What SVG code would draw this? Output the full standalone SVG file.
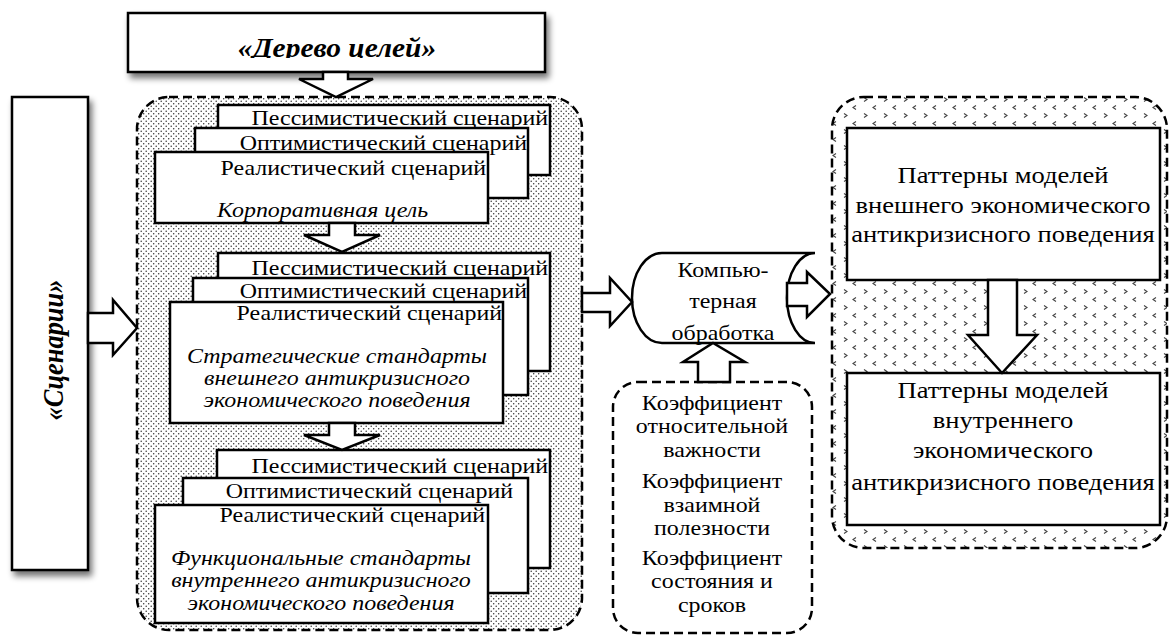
<svg xmlns="http://www.w3.org/2000/svg" width="1169" height="635" viewBox="0 0 1169 635">
<style>
.box{fill:#fff;stroke:#000;stroke-width:2.5}
.dash{stroke:#000;stroke-width:2.5;stroke-dasharray:9 5}
.arr{fill:#fff;stroke:#000;stroke-width:2.5;stroke-linejoin:miter}
.t{font-family:"Liberation Serif","Times New Roman",serif;font-size:21px;fill:#000}
.ti{font-family:"Liberation Serif","Times New Roman",serif;font-size:21px;font-style:italic;fill:#000}
.tr{font-family:"Liberation Serif","Times New Roman",serif;font-size:23.5px;fill:#000}
.tb{font-family:"Liberation Serif","Times New Roman",serif;font-weight:bold;font-style:italic;fill:#000}
</style>
<defs>
<pattern id="dots" width="5" height="5" patternUnits="userSpaceOnUse">
<rect width="5" height="5" fill="#fff"/>
<circle cx="1.2" cy="1.2" r="0.75" fill="#333"/>
<circle cx="3.7" cy="3.7" r="0.75" fill="#333"/>
</pattern>
<pattern id="chev" width="20" height="16" patternUnits="userSpaceOnUse">
<rect width="20" height="16" fill="#fff"/>
<path d="M4,1.5 L7,3.5 L4,5.5" fill="none" stroke="#444" stroke-width="1.1"/>
<path d="M16,9.5 L13,11.5 L16,13.5" fill="none" stroke="#444" stroke-width="1.1"/>
</pattern>
<filter id="sh" x="-20%" y="-20%" width="150%" height="150%">
<feGaussianBlur in="SourceAlpha" stdDeviation="3"/>
<feOffset dx="3" dy="5" result="b"/>
<feComponentTransfer><feFuncA type="linear" slope="0.55"/></feComponentTransfer>
<feMerge><feMergeNode/><feMergeNode in="SourceGraphic"/></feMerge>
</filter>
<clipPath id="titleclip"><rect x="128" y="13" width="417" height="45"/></clipPath>
</defs>
<rect width="1169" height="635" fill="#fff"/>

<g id="panel-left">
<rect x="137" y="97" width="445" height="533" rx="32" fill="url(#dots)" class="dash"/>
</g>
<g id="panel-right">
<rect x="832" y="97" width="335" height="451" rx="32" fill="url(#chev)" class="dash"/>
</g>

<g id="title">
<rect x="128" y="13" width="417" height="59" class="box" filter="url(#sh)"/>
<g clip-path="url(#titleclip)">
<text transform="translate(337,57) scale(1.09,1)" text-anchor="middle" class="tb" font-size="27">«Дерево целей»</text>
</g>
</g>

<g id="scenarios">
<rect x="12" y="97" width="76" height="473" class="box" filter="url(#sh)"/>
<text transform="translate(63,350) rotate(-90) scale(0.88,1)" text-anchor="middle" class="tb" font-size="30">«Сценарии»</text>
</g>

<g id="group1">
<rect x="218" y="105" width="332" height="70" class="box"/>
<text transform="translate(548,125) scale(1.14,1)" text-anchor="end" class="t">Пессимистический сценарий</text>
<rect x="195" y="128" width="333" height="70" class="box"/>
<text transform="translate(527,150) scale(1.14,1)" text-anchor="end" class="t">Оптимистический сценарий</text>
<rect x="155" y="152" width="333" height="71" class="box"/>
<text transform="translate(486,175) scale(1.14,1)" text-anchor="end" class="t">Реалистический сценарий</text>
<text transform="translate(217,217) scale(1.14,1)" class="ti">Корпоративная цель</text>
</g>

<g id="group2">
<rect x="218" y="253" width="332" height="118" class="box"/>
<text transform="translate(548,275) scale(1.14,1)" text-anchor="end" class="t">Пессимистический сценарий</text>
<rect x="193" y="278" width="335" height="117" class="box"/>
<text transform="translate(527,298) scale(1.14,1)" text-anchor="end" class="t">Оптимистический сценарий</text>
<rect x="170" y="302" width="333" height="121" class="box"/>
<text transform="translate(502,320) scale(1.14,1)" text-anchor="end" class="t">Реалистический сценарий</text>
<text transform="translate(337,363) scale(1.14,1)" text-anchor="middle" class="ti">Стратегические стандарты</text>
<text transform="translate(337,385) scale(1.14,1)" text-anchor="middle" class="ti">внешнего антикризисного</text>
<text transform="translate(337,407) scale(1.14,1)" text-anchor="middle" class="ti">экономического поведения</text>
</g>

<g id="group3">
<rect x="217" y="450" width="333" height="118" class="box"/>
<text transform="translate(548,473) scale(1.14,1)" text-anchor="end" class="t">Пессимистический сценарий</text>
<rect x="183" y="478" width="345" height="115" class="box"/>
<text transform="translate(513,498) scale(1.14,1)" text-anchor="end" class="t">Оптимистический сценарий</text>
<rect x="155" y="505" width="333" height="118" class="box"/>
<text transform="translate(485,522) scale(1.14,1)" text-anchor="end" class="t">Реалистический сценарий</text>
<text transform="translate(321,565) scale(1.14,1)" text-anchor="middle" class="ti">Функциональные стандарты</text>
<text transform="translate(321,587) scale(1.14,1)" text-anchor="middle" class="ti">внутреннего антикризисного</text>
<text transform="translate(321,610) scale(1.14,1)" text-anchor="middle" class="ti">экономического поведения</text>
</g>

<g id="computer">
<path d="M662,253 L815,253 A28,45 0 0 0 815,343 L662,343 A30,45 0 0 1 662,253 Z" class="box"/>
<text transform="translate(723,277) scale(1.14,1)" text-anchor="middle" class="t">Компью-</text>
<text transform="translate(723,308) scale(1.14,1)" text-anchor="middle" class="t">терная</text>
<text transform="translate(723,340) scale(1.14,1)" text-anchor="middle" class="t">обработка</text>
</g>

<g id="coefficients">
<rect x="613" y="382" width="199" height="251" rx="25" fill="#fff" class="dash"/>
<text transform="translate(712,410) scale(1.14,1)" text-anchor="middle" class="t">Коэффициент</text>
<text transform="translate(712,433) scale(1.14,1)" text-anchor="middle" class="t">относительной</text>
<text transform="translate(712,457) scale(1.14,1)" text-anchor="middle" class="t">важности</text>
<text transform="translate(712,488) scale(1.14,1)" text-anchor="middle" class="t">Коэффициент</text>
<text transform="translate(712,512) scale(1.14,1)" text-anchor="middle" class="t">взаимной</text>
<text transform="translate(712,535) scale(1.14,1)" text-anchor="middle" class="t">полезности</text>
<text transform="translate(712,565) scale(1.14,1)" text-anchor="middle" class="t">Коэффициент</text>
<text transform="translate(712,588) scale(1.14,1)" text-anchor="middle" class="t">состояния и</text>
<text transform="translate(712,612) scale(1.14,1)" text-anchor="middle" class="t">сроков</text>
</g>

<g id="pattern-external">
<rect x="847" y="128" width="313" height="152" class="box"/>
<text transform="translate(1003,183) scale(1.13,1)" text-anchor="middle" class="tr">Паттерны моделей</text>
<text transform="translate(1003,213) scale(1.13,1)" text-anchor="middle" class="tr">внешнего экономического</text>
<text transform="translate(1003,242) scale(1.13,1)" text-anchor="middle" class="tr">антикризисного поведения</text>
</g>

<g id="pattern-internal">
<rect x="847" y="373" width="313" height="152" class="box"/>
<text transform="translate(1003,398) scale(1.13,1)" text-anchor="middle" class="tr">Паттерны моделей</text>
<text transform="translate(1003,428) scale(1.13,1)" text-anchor="middle" class="tr">внутреннего</text>
<text transform="translate(1003,458) scale(1.13,1)" text-anchor="middle" class="tr">экономического</text>
<text transform="translate(1003,490) scale(1.13,1)" text-anchor="middle" class="tr">антикризисного поведения</text>
</g>

<g id="connectors">
<polygon class="arr" points="323,72 348,72 348,79 373,79 336,97 299,79 323,79"/>
<polygon class="arr" points="88,313 113,313 113,300 137,328 113,355 113,343 88,343"/>
<polygon class="arr" points="329,223 355,223 355,235 380,235 342,252 304,235 329,235"/>
<polygon class="arr" points="329,423 355,423 355,435 380,435 342,450 304,435 329,435"/>
<polygon class="arr" points="582,293 610,293 610,278 632,302 610,326 610,312 582,312"/>
<polygon class="arr" points="787,283 807,283 807,272 830,294 807,317 807,306 787,306"/>
<polygon class="arr" points="698,382 698,362 683,362 713,343 745,362 730,362 730,382"/>
<polygon class="arr" points="988,280 1017,280 1017,335 1037,335 1002,373 968,335 988,335"/>
</g>
</svg>
